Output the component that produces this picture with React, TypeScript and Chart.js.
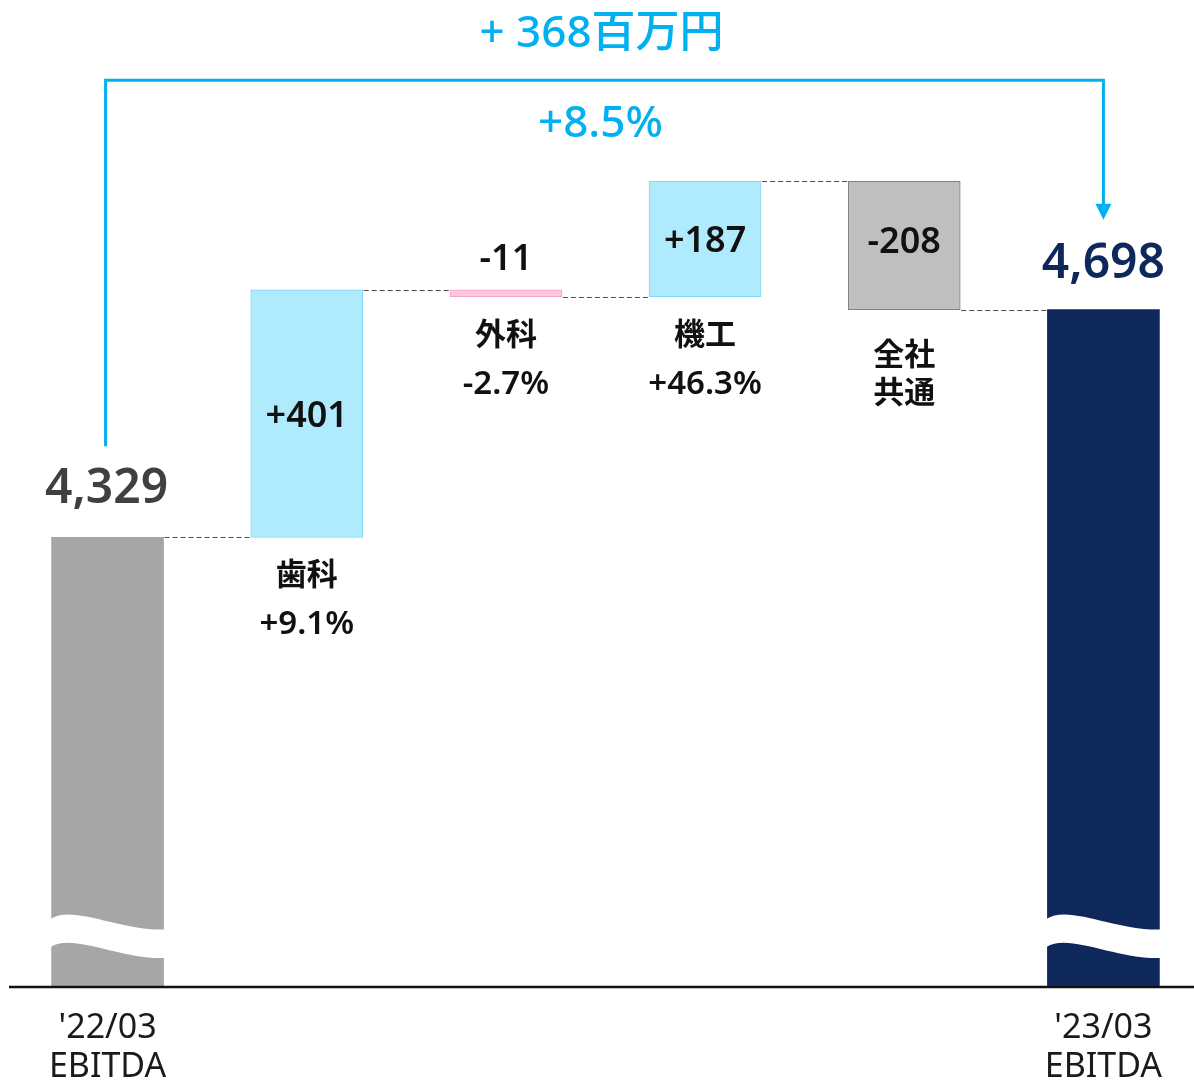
import React, { useEffect, useRef } from "react";
import { Chart, registerables } from "chart.js";

Chart.register(...registerables);

// ---------- data ----------
const categories = ["'22/03\nEBITDA", "歯科", "外科", "機工", "全社\n共通", "'23/03\nEBITDA"];
const startValue = 4329;
const endValue = 4698;
const deltas = [401, -11, 187, -208];
const deltaLabels = ["+401", "-11", "+187", "-208"];
const growthLabels = ["+9.1%", "-2.7%", "+46.3%", ""];
const totalLabels = ["4,329", "4,698"];
const changeLabel = "+ 368百万円";
const changePctLabel = "+8.5%";
const axisBreakValue = 3600;
const axisMaxValue = 5200;

// ---------- derived waterfall ranges ----------
const running: number[] = [startValue];
deltas.forEach((d) => running.push(running[running.length - 1] + d));
const ranges: [number, number][] = [[axisBreakValue, startValue]];
deltas.forEach((d, i) => ranges.push([running[i], running[i + 1]]));
ranges.push([axisBreakValue, endValue]);

// ---------- styles ----------
const CYAN = "#00b0f0";
const NAVY = "#0f285c";
const FONT = "'Noto Sans', 'Noto Sans CJK JP', sans-serif";
const fills = ["#a6a6a6", "#b0ebfd", "#ffc6e0", "#b0ebfd", "#bfbfbf", NAVY];
const borders = ["#a6a6a6", "#7fd9f7", "#f6a3c9", "#7fd9f7", "#808080", NAVY];
const borderWidths = [0, 1, 1, 1, 1, 0];
const deltaPos = ["mid", "above", "mid", "top"];

const overlayPlugin = {
  id: "overlay",
  afterDatasetsDraw(chart: any) {
    const ctx: CanvasRenderingContext2D = chart.ctx;
    const yScale = chart.scales.y;
    const meta = chart.getDatasetMeta(0);
    const bars = meta.data.map((el: any) => {
      const p = el.getProps(["x", "y", "base", "width"], true);
      return {
        x: p.x,
        top: Math.min(p.y, p.base),
        bottom: Math.max(p.y, p.base),
        left: p.x - p.width / 2,
        right: p.x + p.width / 2,
      };
    });
    const base = yScale.getPixelForValue(axisBreakValue);
    ctx.save();

    // wave breaks on total bars
    [0, 5].forEach((i) => {
      const b = bars[i];
      const L = b.left - 1;
      const R = b.right + 1;
      ctx.beginPath();
      ctx.moveTo(L, base - 68);
      ctx.bezierCurveTo(L + 22, base - 83, R - 45, base - 56, R, base - 57.5);
      ctx.lineTo(R, base - 29);
      ctx.bezierCurveTo(R - 45, base - 27.5, L + 22, base - 54.5, L, base - 40);
      ctx.closePath();
      ctx.fillStyle = "#ffffff";
      ctx.fill();
    });

    // dashed connectors
    ctx.strokeStyle = "#505050";
    ctx.lineWidth = 1;
    ctx.setLineDash([5, 3]);
    for (let i = 0; i < 5; i++) {
      const yy = Math.round(yScale.getPixelForValue(running[i])) + 0.5;
      ctx.beginPath();
      ctx.moveTo(bars[i].right + 1, yy);
      ctx.lineTo(bars[i + 1].left - 1, yy);
      ctx.stroke();
    }
    ctx.setLineDash([]);

    // axis line
    ctx.strokeStyle = "#111111";
    ctx.lineWidth = 2.5;
    ctx.beginPath();
    ctx.moveTo(chart.chartArea.left + 1, base);
    ctx.lineTo(chart.width, base);
    ctx.stroke();

    // bracket arrow
    const x0 = bars[0].x - 2;
    const x5 = bars[5].x;
    const topY = yScale.getPixelForValue(5070);
    const tipY = bars[5].top - 90;
    ctx.strokeStyle = CYAN;
    ctx.fillStyle = CYAN;
    ctx.lineWidth = 3;
    ctx.beginPath();
    ctx.moveTo(x0, bars[0].top - 91);
    ctx.lineTo(x0, topY);
    ctx.lineTo(x5, topY);
    ctx.lineTo(x5, tipY - 14);
    ctx.stroke();
    ctx.beginPath();
    ctx.moveTo(x5 - 8, tipY - 16);
    ctx.lineTo(x5 + 8, tipY - 16);
    ctx.lineTo(x5, tipY);
    ctx.closePath();
    ctx.fill();

    ctx.textAlign = "center";
    ctx.textBaseline = "alphabetic";

    // change labels
    ctx.font = `500 44px ${FONT}`;
    ctx.fillText(changeLabel, (x0 + x5) / 2 - 3, topY - 33);
    ctx.fillText(changePctLabel, (x0 + x5) / 2 - 4, topY + 57);

    // totals
    ctx.font = `600 48px ${FONT}`;
    ctx.fillStyle = "#404040";
    ctx.fillText(totalLabels[0], bars[0].x - 1, bars[0].top - 34);
    ctx.fillStyle = NAVY;
    ctx.fillText(totalLabels[1], bars[5].x, bars[5].top - 32);

    // delta values
    ctx.fillStyle = "#111111";
    ctx.font = `600 36px ${FONT}`;
    for (let k = 0; k < 4; k++) {
      const b = bars[k + 1];
      let yy: number;
      if (deltaPos[k] === "mid") yy = (b.top + b.bottom) / 2 + 13;
      else if (deltaPos[k] === "top") yy = b.top + 72;
      else yy = b.top - 20;
      ctx.fillText(deltaLabels[k], b.x, yy);
    }

    // category labels below bars
    for (let k = 0; k < 4; k++) {
      const b = bars[k + 1];
      const names = categories[k + 1].split("\n");
      ctx.fillStyle = "#111111";
      if (growthLabels[k]) {
        ctx.font = `700 31px ${FONT}`;
        ctx.textBaseline = "middle";
        ctx.fillText(names[0], b.x, b.bottom + 39);
        ctx.font = `600 33px ${FONT}`;
        ctx.textBaseline = "alphabetic";
        ctx.fillText(growthLabels[k], b.x, b.bottom + 97);
      } else {
        ctx.font = `700 31px ${FONT}`;
        ctx.textBaseline = "middle";
        names.forEach((n, j) => ctx.fillText(n, b.x, b.bottom + 47 + j * 38));
      }
    }

    // x-axis labels for totals
    ctx.textBaseline = "alphabetic";
    ctx.font = `400 34px ${FONT}`;
    ctx.fillStyle = "#1a1a1a";
    [0, 5].forEach((i) => {
      const lines = categories[i].split("\n");
      lines.forEach((ln, j) => ctx.fillText(ln, bars[i].x, base + 51 + j * 39));
    });

    ctx.restore();
  },
};

export default function App() {
  const ref = useRef<HTMLCanvasElement | null>(null);
  useEffect(() => {
    if (!ref.current) return;
    const chart = new Chart(ref.current, {
      type: "bar",
      data: {
        labels: categories,
        datasets: [
          {
            data: ranges as any,
            backgroundColor: fills,
            borderColor: borders,
            borderWidth: borderWidths,
            borderSkipped: false,
            barThickness: 112,
          },
        ],
      },
      options: {
        responsive: false,
        animation: false,
        events: [],
        layout: { padding: { top: 0, left: 0, right: 0, bottom: 94 } },
        plugins: { legend: { display: false }, tooltip: { enabled: false } },
        scales: {
          x: { display: false, offset: true },
          y: { display: false, min: axisBreakValue, max: axisMaxValue },
        },
      },
      plugins: [overlayPlugin],
    });
    return () => chart.destroy();
  }, []);
  return (
    <div style={{ position: "absolute", left: 0, top: 0, width: 1194, height: 1081, overflow: "hidden", background: "#fff" }}>
      <div style={{ position: "absolute", left: 8, top: 0 }}>
        <canvas ref={ref} width={1195} height={1081} style={{ display: "block" }} />
      </div>
    </div>
  );
}
